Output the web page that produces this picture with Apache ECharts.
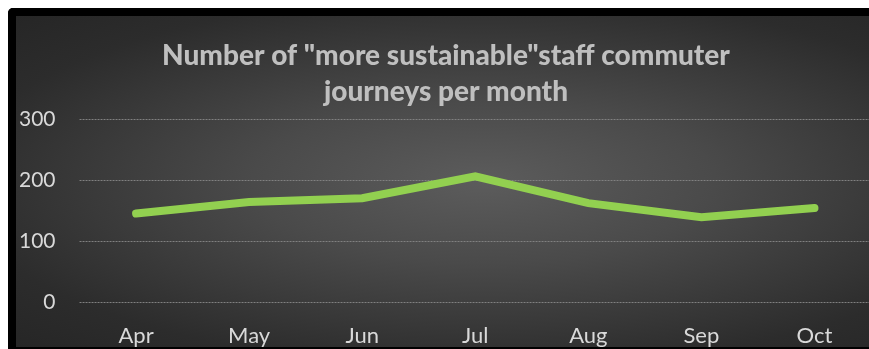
<!DOCTYPE html>
<html>
<head>
<meta charset="utf-8">
<script src="https://cdn.jsdelivr.net/npm/echarts@6/dist/echarts.min.js"></script>
<style>
  html, body { margin: 0; padding: 0; background: #fff; overflow: hidden; }
  .frame {
    position: absolute; left: 8px; top: 8px;
    width: 900px; height: 331px;
    border: 8px solid #000; border-right: none;
    border-top-left-radius: 5px;
    background: radial-gradient(ellipse at 52% 50%, #5c5c5c 0%, #4a4a4a 35%, #2c2c2c 80%, #262626 100%);
  }
  #chart { width: 880px; height: 331px; }
</style>
</head>
<body>
<div class="frame"><div id="chart"></div></div>
<script>
// monthly "more sustainable" commuter journeys
const months = ['Apr', 'May', 'Jun', 'Jul', 'Aug', 'Sep', 'Oct'];
const journeys = [145, 164, 170, 206, 162, 139, 154];
const yTicks = { min: 0, max: 300, interval: 100 };

const chart = echarts.init(document.getElementById('chart'));
chart.setOption({
  backgroundColor: 'transparent',
  animation: false,
  title: {
    text: 'Number of "more sustainable"staff commuter\njourneys per month',
    left: 425, top: 17,
    textAlign: 'center',
    textStyle: {
      color: '#bfbfbf', fontFamily: 'Lato', fontWeight: 900,
      fontSize: 28, lineHeight: 36
    }
  },
  grid: { left: 60, right: 25, top: 103, bottom: 45 },
  xAxis: {
    type: 'category',
    data: months,
    axisLine: { show: false },
    axisTick: { show: false },
    axisLabel: { color: '#d9d9d9', fontFamily: 'Lato', fontSize: 22, margin: 23 }
  },
  yAxis: {
    type: 'value',
    min: yTicks.min, max: yTicks.max, interval: yTicks.interval,
    axisLine: { show: false },
    axisTick: { show: false },
    axisLabel: { color: '#d9d9d9', fontFamily: 'Lato', fontSize: 21, margin: 24 },
    splitLine: { lineStyle: { color: '#808080', width: 1, type: [2, 1] } }
  },
  series: [{
    type: 'line',
    data: journeys,
    showSymbol: false,
    lineStyle: { color: '#92d050', width: 8, cap: 'round', join: 'miter' }
  }]
});
</script>
</body>
</html>
